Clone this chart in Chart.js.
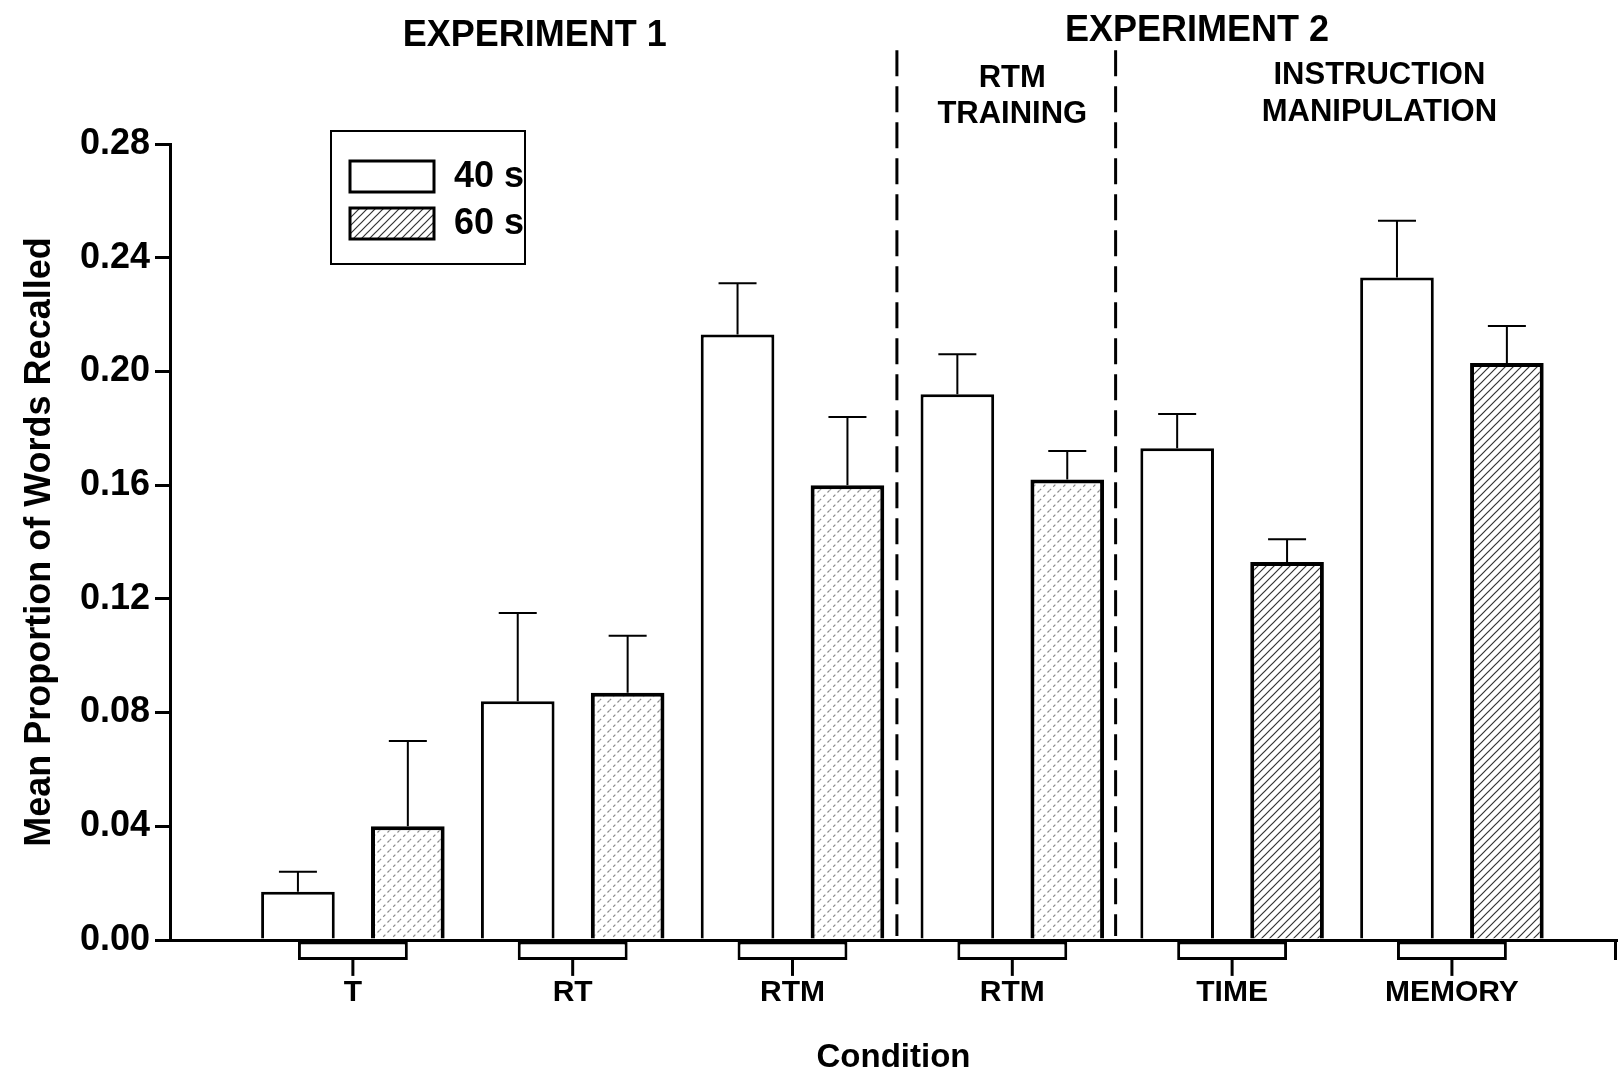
<!doctype html>
<html><head>
<script src="https://cdn.jsdelivr.net/npm/chart.js"></script>
<style>
html, body { margin: 0; padding: 0; background: #fff; }
#holder { width: 1620px; height: 1074px; position: relative; }
</style>
</head>
<body>
<div id="holder"><canvas id="myChart"></canvas></div>
<script>
// data
var conditions = ['T', 'RT', 'RTM', 'RTM', 'TIME', 'MEMORY'];
var mean40 = [0.017, 0.084, 0.213, 0.192, 0.173, 0.233];
var err40  = [0.007, 0.031, 0.018, 0.014, 0.012, 0.020];
var mean60 = [0.040, 0.087, 0.160, 0.162, 0.133, 0.203];
var err60  = [0.030, 0.020, 0.024, 0.010, 0.008, 0.013];
var baseBox = [-0.007, -0.007, -0.007, -0.007, -0.007, -0.007];
var yTicks = [0, 0.04, 0.08, 0.12, 0.16, 0.20, 0.24, 0.28];
var dividers = [2.475, 3.47];   // dashed lines between groups (x units)
var dividerTop = 0.313;

var FONT = "'Liberation Sans', Arial, sans-serif";

function hatch(size, color, width, dash) {
    var c = document.createElement('canvas');
    c.width = size; c.height = size;
    var g = c.getContext('2d');
    g.fillStyle = '#fff';
    g.fillRect(0, 0, size, size);
    g.strokeStyle = color;
    g.lineWidth = width;
    if (dash) g.setLineDash(dash);
    g.beginPath();
    g.moveTo(-1, size + 1); g.lineTo(size + 1, -1);
    g.moveTo(-1, 1); g.lineTo(1, -1);
    g.moveTo(size - 1, size + 1); g.lineTo(size + 1, size - 1);
    g.stroke();
    return g.createPattern(c, 'repeat');
}
var sparse = hatch(10, '#8a8a8a', 1.2, [3, 3]);
var dense = hatch(8, '#333', 1.2, null);
var fill60 = conditions.map(function(c, i) { return i < 4 ? sparse : dense; });

function pts(arr) { return arr.map(function(v, i) { return {x: i, y: v}; }); }

var errorBars = {
    id: 'errorBars',
    afterDatasetsDraw: function(chart) {
        var ctx = chart.ctx, y = chart.scales.y;
        var errs = [err40, err60], means = [mean40, mean60];
        ctx.save();
        ctx.strokeStyle = '#000';
        ctx.lineWidth = 2;
        [0, 1].forEach(function(d) {
            chart.getDatasetMeta(d).data.forEach(function(bar, i) {
                var top = y.getPixelForValue(means[d][i] + errs[d][i]);
                ctx.beginPath();
                ctx.moveTo(bar.x, bar.y);
                ctx.lineTo(bar.x, top);
                ctx.moveTo(bar.x - 19, top);
                ctx.lineTo(bar.x + 19, top);
                ctx.stroke();
            });
        });
        // stems under the boxes
        ctx.lineWidth = 3;
        chart.getDatasetMeta(2).data.forEach(function(bar) {
            ctx.beginPath();
            ctx.moveTo(bar.x, bar.y);
            ctx.lineTo(bar.x, bar.y + 16);
            ctx.stroke();
        });
        ctx.restore();
    }
};

var decorations = {
    id: 'decorations',
    afterDraw: function(chart) {
        var ctx = chart.ctx, x = chart.scales.x, y = chart.scales.y;
        var a = chart.chartArea;
        ctx.save();
        ctx.strokeStyle = '#000';
        // end tick at the right of the x axis
        ctx.lineWidth = 3;
        ctx.beginPath();
        ctx.moveTo(a.right - 1.5, a.bottom);
        ctx.lineTo(a.right - 1.5, a.bottom + 20);
        ctx.stroke();
        // dashed dividers
        ctx.setLineDash([26, 10]);
        dividers.forEach(function(v) {
            var px = x.getPixelForValue(v);
            ctx.beginPath();
            ctx.moveTo(px, y.getPixelForValue(dividerTop));
            ctx.lineTo(px, y.getPixelForValue(0) - 4);
            ctx.stroke();
        });
        ctx.setLineDash([]);

        // headings
        ctx.fillStyle = '#000';
        ctx.textAlign = 'center';
        ctx.textBaseline = 'middle';
        ctx.font = 'bold 36px ' + FONT;
        ctx.fillText('EXPERIMENT 1', x.getPixelForValue(0.827), 36);
        ctx.fillText('EXPERIMENT 2', x.getPixelForValue(3.84), 31);
        ctx.font = 'bold 31px ' + FONT;
        ctx.fillText('RTM', x.getPixelForValue(3.0), 78);
        ctx.fillText('TRAINING', x.getPixelForValue(3.0), 114);
        ctx.fillText('INSTRUCTION', x.getPixelForValue(4.67), 75);
        ctx.fillText('MANIPULATION', x.getPixelForValue(4.67), 112);

        // legend
        ctx.lineWidth = 2;
        ctx.strokeRect(331, 131, 194, 133);
        ctx.lineWidth = 3;
        ctx.fillStyle = '#fff';
        ctx.fillRect(350, 161, 84, 31);
        ctx.strokeRect(350, 161, 84, 31);
        ctx.fillStyle = dense;
        ctx.fillRect(350, 208, 84, 31);
        ctx.strokeRect(350, 208, 84, 31);
        ctx.fillStyle = '#000';
        ctx.textAlign = 'left';
        ctx.font = 'bold 36px ' + FONT;
        ctx.fillText('40 s', 454, 177);
        ctx.fillText('60 s', 454, 224);
        ctx.restore();
    }
};

var config = {
    type: 'bar',
    data: {
        datasets: [{
            label: '40 s',
            data: pts(mean40),
            backgroundColor: '#fff',
            borderColor: '#000',
            borderWidth: 3,
            barPercentage: 0.67,
            categoryPercentage: 1.0
        }, {
            label: '60 s',
            data: pts(mean60),
            backgroundColor: fill60,
            borderColor: '#000',
            borderWidth: 4,
            barPercentage: 0.67,
            categoryPercentage: 1.0
        }, {
            label: 'box',
            data: pts(baseBox),
            backgroundColor: '#fff',
            borderColor: '#000',
            borderWidth: 3,
            borderSkipped: false,
            grouped: false,
            barPercentage: 0.5,
            categoryPercentage: 1.0,
            clip: false
        }]
    },
    options: {
        responsive: true,
        maintainAspectRatio: false,
        animation: false,
        layout: { padding: { top: 144, right: 3, left: 0, bottom: 0 } },
        plugins: {
            legend: { display: false },
            tooltip: { enabled: false }
        },
        scales: {
            x: {
                type: 'linear',
                offset: false,
                min: -0.832,
                max: 5.751,
                afterBuildTicks: function(scale) {
                    scale.ticks = conditions.map(function(c, i) { return {value: i}; });
                },
                afterFit: function(scale) { scale.height = 134; },
                grid: { display: false, drawTicks: false, offset: false },
                border: { display: true, color: '#000', width: 3 },
                ticks: {
                    color: '#000',
                    padding: 35,
                    autoSkip: false,
                    maxRotation: 0,
                    font: { family: FONT, size: 30, weight: 'bold' },
                    callback: function(v) { return conditions[v]; }
                },
                title: {
                    display: true,
                    text: 'Condition',
                    color: '#000',
                    padding: 0,
                    font: { family: FONT, size: 33, weight: 'bold', lineHeight: 1 }
                }
            },
            y: {
                min: 0,
                max: 0.28,
                afterBuildTicks: function(scale) {
                    scale.ticks = yTicks.map(function(v) { return {value: v}; });
                },
                afterFit: function(scale) { scale.width = 170; },
                grid: { drawOnChartArea: false, tickLength: 15, color: '#000', lineWidth: 3 },
                border: { display: true, color: '#000', width: 3 },
                ticks: {
                    color: '#000',
                    padding: 5,
                    font: { family: FONT, size: 36, weight: 'bold' },
                    callback: function(v) { return v.toFixed(2); }
                },
                title: {
                    display: true,
                    text: 'Mean Proportion of Words Recalled',
                    color: '#000',
                    padding: { top: 18, bottom: 0 },
                    font: { family: FONT, size: 36, weight: 'bold' }
                }
            }
        }
    },
    plugins: [errorBars, decorations]
};

var myChart = new Chart(document.getElementById('myChart'), config);
</script>
</body>
</html>
